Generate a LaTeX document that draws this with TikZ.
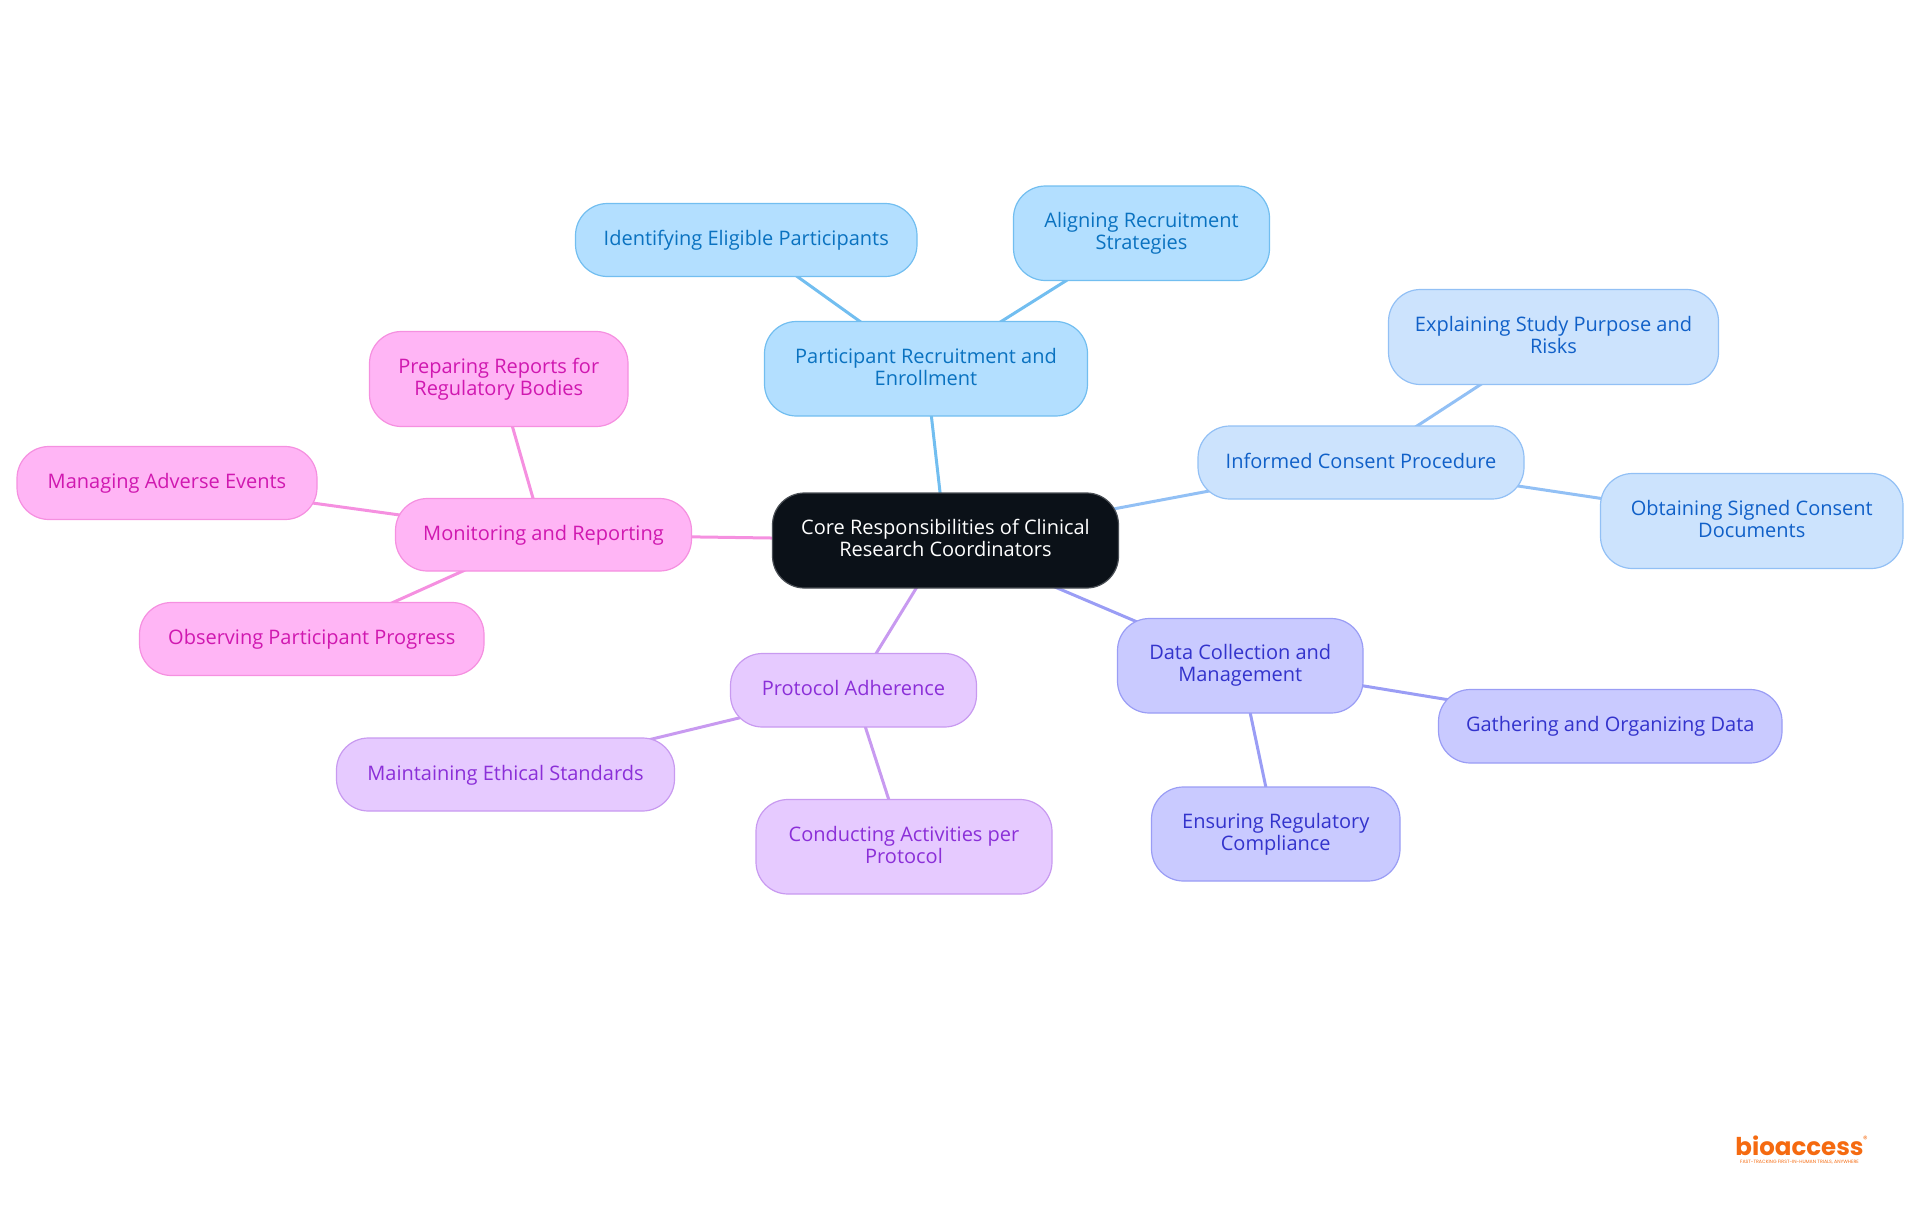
\documentclass[tikz,border=0pt]{standalone}
\usepackage{fontspec}
\setmainfont{Open Sans}
\newfontfamily\logofont{Poppins}
\usetikzlibrary{backgrounds}
\definecolor{rootfill}{HTML}{0B1118}\definecolor{rootline}{HTML}{4A4F55}
\definecolor{afill}{HTML}{B3DFFF}\definecolor{aline}{HTML}{72BEF0}\definecolor{atext}{HTML}{0A72C0}
\definecolor{bfill}{HTML}{CCE3FD}\definecolor{bline}{HTML}{92C0F5}\definecolor{btext}{HTML}{1060C8}
\definecolor{cfill}{HTML}{C9CAFF}\definecolor{cline}{HTML}{9A9DF5}\definecolor{ctext}{HTML}{3333CC}
\definecolor{dfill}{HTML}{E6CAFF}\definecolor{dline}{HTML}{C89AF0}\definecolor{dtext}{HTML}{8B2FD8}
\definecolor{efill}{HTML}{FFB5F5}\definecolor{eline}{HTML}{F590E0}\definecolor{etext}{HTML}{D018B0}
\definecolor{logoorange}{HTML}{F56A10}
\newcommand{\linestrut}{\rule[-4.6pt]{0pt}{20.6pt}}
\newcommand{\br}{\\\linestrut}
\tikzset{
  x=1pt,y=-1pt,
  box/.style={rectangle,rounded corners=32pt,line width=1.2pt,align=center,inner sep=0pt,
    font=\fontsize{20pt}{22pt}\selectfont,execute at begin node=\linestrut},
  rootbox/.style={box,fill=rootfill,draw=rootline,text=white},
  abox/.style={box,fill=afill,draw=aline,text=atext},
  bbox/.style={box,fill=bfill,draw=bline,text=btext},
  cbox/.style={box,fill=cfill,draw=cline,text=ctext},
  dbox/.style={box,fill=dfill,draw=dline,text=dtext},
  ebox/.style={box,fill=efill,draw=eline,text=etext},
  link/.style={line width=3pt},
  logotext/.style={inner sep=0pt,text=logoorange,anchor=base},
}
\newcommand{\mk}[7]{\node[#1,minimum width=#5pt-#4pt,minimum height=#7pt-#6pt] (#2) at ({(#4+#5)/2},{(#6+#7)/2}) {#3};}
\begin{document}
\begin{tikzpicture}
\useasboundingbox (0,0) rectangle (1920,1215);
\mk{rootbox}{root}{Core Responsibilities of Clinical\br Research Coordinators}{772.5}{1118.5}{493}{588}
\mk{abox}{part}{Participant Recruitment and\br Enrollment}{764.5}{1087.5}{321.5}{416}
\mk{abox}{iden}{Identifying Eligible Participants}{575.5}{917}{203.5}{276.5}
\mk{abox}{alig}{Aligning Recruitment\br Strategies}{1013.5}{1269.5}{186}{280.5}
\mk{bbox}{info}{Informed Consent Procedure}{1198}{1524}{426}{499}
\mk{bbox}{expl}{Explaining Study Purpose and\br Risks}{1388.5}{1718.5}{289.5}{384.5}
\mk{bbox}{obta}{Obtaining Signed Consent\br Documents}{1600.5}{1903}{473.5}{568.5}
\mk{cbox}{data}{Data Collection and\br Management}{1117.5}{1363}{618.5}{713}
\mk{cbox}{gath}{Gathering and Organizing Data}{1438.5}{1782}{689.5}{763}
\mk{cbox}{ensu}{Ensuring Regulatory\br Compliance}{1151.5}{1400}{787}{881}
\mk{dbox}{prot}{Protocol Adherence}{730.5}{976.5}{653.5}{727}
\mk{dbox}{main}{Maintaining Ethical Standards}{336.5}{674.5}{738}{811}
\mk{dbox}{cond}{Conducting Activities per\br Protocol}{756}{1052}{799.5}{894}
\mk{ebox}{moni}{Monitoring and Reporting}{395.5}{691.5}{498.5}{571}
\mk{ebox}{prep}{Preparing Reports for\br Regulatory Bodies}{369.5}{628}{331.5}{426.5}
\mk{ebox}{mana}{Managing Adverse Events}{17}{317}{446.5}{519.5}
\mk{ebox}{obse}{Observing Participant Progress}{139.5}{484}{602.5}{675.5}
\begin{scope}[on background layer]
\draw[link,aline] (root.center)--(part.center) (part.center)--(iden.center) (part.center)--(alig.center);
\draw[link,bline] (root.center)--(info.center) (info.center)--(expl.center) (info.center)--(obta.center);
\draw[link,cline] (root.center)--(data.center) (data.center)--(gath.center) (data.center)--(ensu.center);
\draw[link,dline] (root.center)--(prot.center) (prot.center)--(main.center) (prot.center)--(cond.center);
\draw[link,eline] (root.center)--(moni.center) (moni.center)--(prep.center) (moni.center)--(mana.center) (moni.center)--(obse.center);
\end{scope}
\node[logotext,font=\logofont\bfseries\fontsize{24.5pt}{25pt}\selectfont] (logo) at (1799.5,1155.5) {bioaccess};
\node[logotext,font=\logofont\fontsize{9pt}{9pt}\selectfont] (reg) at (1865.5,1142) {®};
\node[logotext,font=\logofont\fontsize{4.7pt}{5pt}\selectfont] (tag) at (1799.5,1163.5) {FAST-TRACKING FIRST-IN-HUMAN TRIALS, ANYWHERE};
\end{tikzpicture}
\end{document}
